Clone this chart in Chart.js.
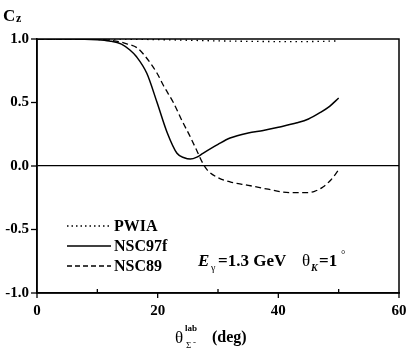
<!DOCTYPE html>
<html>
<head>
<meta charset="utf-8">
<script src="https://cdn.jsdelivr.net/npm/chart.js@4.4.0/dist/chart.umd.min.js"></script>
<style>
  html, body { margin: 0; padding: 0; background: #fff; }
  #wrap { width: 408px; height: 358px; }
</style>
</head>
<body>
<div id="wrap"><canvas id="czChart" width="408" height="358"></canvas></div>
<script>
// angle (deg) and Cz values
const pwiaX = [0, 10, 20, 30, 40, 45, 50];
const pwiaY = [1.0, 1.0, 0.995, 0.985, 0.98, 0.98, 0.985];

const nsc97fX = [0, 5, 10, 12, 14, 15.4, 16.5, 18.2, 19.9, 21.6, 23.2, 24.4, 25.4, 26.5, 27.5, 30, 32, 35, 37.5, 40, 43.1, 45, 46.9, 48.5, 50];
const nsc97fY = [1.0, 1.0, 0.995, 0.985, 0.96, 0.913, 0.86, 0.73, 0.50, 0.26, 0.10, 0.065, 0.055, 0.07, 0.10, 0.17, 0.22, 0.26, 0.28, 0.305, 0.34, 0.37, 0.42, 0.47, 0.535];

const nsc89X = [0, 5, 10, 12, 14, 15, 16.6, 18, 19.9, 21, 22.6, 24, 25.4, 26.5, 27.5, 28.2, 29.8, 32, 34.8, 38, 42, 44.8, 46, 47.4, 48.7, 50];
const nsc89Y = [1.0, 1.0, 0.997, 0.99, 0.975, 0.96, 0.93, 0.86, 0.73, 0.63, 0.50, 0.36, 0.23, 0.12, 0.02, -0.03, -0.087, -0.125, -0.15, -0.18, -0.21, -0.21, -0.2, -0.165, -0.11, -0.03];

const xTicks = [0, 20, 40, 60];
const xMinorTicks = [10, 30, 50];
const yTicks = [-1.0, -0.5, 0.0, 0.5, 1.0];

const serif = '"Liberation Serif", "Times New Roman", serif';

function toPoints(xs, ys) {
  return xs.map((x, i) => ({ x: x, y: ys[i] }));
}

// frame, tick marks, legend, annotation and axis titles
const extras = {
  id: 'extras',
  afterDraw(chart) {
    const ctx = chart.ctx;
    const a = chart.chartArea;
    const xs = chart.scales.x;
    const ys = chart.scales.y;
    ctx.save();
    ctx.strokeStyle = '#000';
    ctx.lineWidth = 1.5;
    ctx.strokeRect(a.left, a.top, a.right - a.left, a.bottom - a.top);

    ctx.lineWidth = 1.3;
    yTicks.forEach(v => {
      const py = ys.getPixelForValue(v);
      ctx.beginPath();
      ctx.moveTo(a.left - 6, py);
      ctx.lineTo(a.left, py);
      ctx.stroke();
    });
    xTicks.forEach(v => {
      const px = xs.getPixelForValue(v);
      ctx.beginPath();
      ctx.moveTo(px, a.bottom - 1);
      ctx.lineTo(px, a.bottom + 5);
      ctx.stroke();
    });
    xMinorTicks.forEach(v => {
      const px = xs.getPixelForValue(v);
      ctx.beginPath();
      ctx.moveTo(px, a.bottom);
      ctx.lineTo(px, a.bottom - 4);
      ctx.stroke();
    });

    // legend
    const rows = [
      { label: 'PWIA', dash: [1.5, 3], y: 226 },
      { label: 'NSC97f', dash: [], y: 246 },
      { label: 'NSC89', dash: [5, 3], y: 266 }
    ];
    rows.forEach(r => {
      ctx.beginPath();
      ctx.setLineDash(r.dash);
      ctx.lineWidth = 1.3;
      ctx.moveTo(67, r.y);
      ctx.lineTo(111, r.y);
      ctx.stroke();
      ctx.setLineDash([]);
      ctx.fillStyle = '#000';
      ctx.font = 'bold 16px ' + serif;
      ctx.textBaseline = 'middle';
      ctx.textAlign = 'left';
      ctx.fillText(r.label, 114, r.y + 1);
    });

    // E_gamma annotation
    ctx.textBaseline = 'alphabetic';
    ctx.font = 'italic bold 17px ' + serif;
    ctx.fillText('E', 198, 266);
    ctx.font = '10px ' + serif;
    ctx.fillText('\u03b3', 211, 271);
    ctx.font = 'bold 17px ' + serif;
    ctx.fillText('=1.3 GeV', 218, 266);
    ctx.font = '17px ' + serif;
    ctx.fillText('\u03b8', 302, 266);
    ctx.font = 'italic bold 10px ' + serif;
    ctx.fillText('K', 311, 271);
    ctx.font = 'bold 17px ' + serif;
    ctx.fillText('=1', 319, 266);
    ctx.font = '11px ' + serif;
    ctx.fillText('\u00b0', 341, 258);

    // x axis title
    ctx.font = '17px ' + serif;
    ctx.fillText('\u03b8', 175, 343);
    ctx.font = 'bold 9px ' + serif;
    ctx.fillText('lab', 185, 331);
    ctx.font = '9px ' + serif;
    ctx.fillText('\u03a3', 186, 348);
    ctx.fillText('-', 193, 345);
    ctx.font = 'bold 16px ' + serif;
    ctx.fillText('(deg)', 212, 342);

    // y axis title
    ctx.font = 'bold 17px ' + serif;
    ctx.fillText('C', 3, 21);
    ctx.font = 'bold 12px ' + serif;
    ctx.fillText('z', 16, 22);
    ctx.restore();
  }
};

new Chart(document.getElementById('czChart'), {
  type: 'line',
  data: {
    datasets: [
      {
        label: 'PWIA',
        data: toPoints(pwiaX, pwiaY),
        borderColor: '#000',
        borderWidth: 1.3,
        borderDash: [1.5, 4],
        pointRadius: 0,
        cubicInterpolationMode: 'monotone'
      },
      {
        label: 'NSC97f',
        data: toPoints(nsc97fX, nsc97fY),
        borderColor: '#000',
        borderWidth: 1.5,
        pointRadius: 0,
        cubicInterpolationMode: 'monotone'
      },
      {
        label: 'NSC89',
        data: toPoints(nsc89X, nsc89Y),
        borderColor: '#000',
        borderWidth: 1.3,
        borderDash: [6, 3.5],
        pointRadius: 0,
        cubicInterpolationMode: 'monotone'
      }
    ]
  },
  options: {
    responsive: false,
    animation: false,
    layout: { padding: { top: 39, right: 9, left: 0, bottom: 0 } },
    plugins: {
      legend: { display: false },
      tooltip: { enabled: false }
    },
    scales: {
      x: {
        type: 'linear',
        min: 0,
        max: 60,
        afterFit: s => { s.height = 65; s.paddingLeft = 0; s.paddingRight = 0; },
        afterBuildTicks: s => { s.ticks = xTicks.map(v => ({ value: v })); },
        border: { color: '#000', width: 1.5 },
        grid: { drawOnChartArea: false, drawTicks: false },
        ticks: {
          color: '#000',
          padding: 9,
          font: { family: serif, size: 15, weight: 'bold' },
          maxRotation: 0,
          autoSkip: false,
          callback: v => String(v)
        }
      },
      y: {
        min: -1,
        max: 1,
        afterFit: s => { s.width = 37; s.paddingTop = 0; s.paddingBottom = 0; },
        afterBuildTicks: s => { s.ticks = yTicks.map(v => ({ value: v })); },
        border: { color: '#000', width: 1.5 },
        grid: {
          color: ctx => (ctx.tick && ctx.tick.value === 0) ? '#000' : 'rgba(0,0,0,0)',
          lineWidth: 1.3,
          drawTicks: false
        },
        ticks: {
          color: '#000',
          padding: 8,
          font: { family: serif, size: 15, weight: 'bold' },
          callback: v => v.toFixed(1)
        }
      }
    }
  },
  plugins: [extras]
});
</script>
</body>
</html>
